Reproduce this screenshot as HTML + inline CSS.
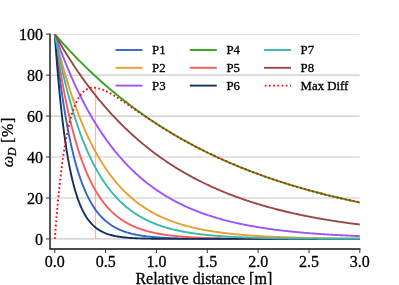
<!DOCTYPE html>
<html><head><meta charset="utf-8"><title>plot</title>
<style>
html,body{margin:0;padding:0;background:#fff;}
body{width:399px;height:285px;overflow:hidden;position:relative;}
svg{position:absolute;left:0;top:0;display:block;}
text{font-family:"Liberation Serif","Times New Roman",serif;fill:#000;stroke:#000;stroke-width:0.3px;}
.tk{font-size:16px;}
.lg{font-size:12.8px;}
.lb{font-size:16px;}
</style></head><body>
<svg width="399" height="285" viewBox="0 0 399 285">
<defs><clipPath id="ax"><rect x="50.0" y="34.2" width="309.8" height="214.8"/></clipPath></defs>
<rect width="399" height="285" fill="#fff"/>
<g clip-path="url(#ax)">
<line x1="50.0" x2="359.8" y1="238.90" y2="238.90" stroke="#cacaca" stroke-width="1.1"/>
<line x1="50.0" x2="359.8" y1="197.96" y2="197.96" stroke="#cacaca" stroke-width="1.1"/>
<line x1="50.0" x2="359.8" y1="157.02" y2="157.02" stroke="#cacaca" stroke-width="1.1"/>
<line x1="50.0" x2="359.8" y1="116.08" y2="116.08" stroke="#cacaca" stroke-width="1.1"/>
<line x1="50.0" x2="359.8" y1="75.14" y2="75.14" stroke="#cacaca" stroke-width="1.1"/>
<line x1="50.0" x2="359.8" y1="34.20" y2="34.20" stroke="#cacaca" stroke-width="1.1"/>
<line x1="95.47" x2="95.47" y1="87.42" y2="238.90" stroke="#f8a0a0" stroke-width="0.8"/>
<path d="M54.80,34.20 L55.82,43.91 L56.83,53.16 L57.85,61.97 L58.87,70.36 L59.88,78.36 L60.90,85.98 L61.92,93.23 L62.93,100.14 L63.95,106.72 L64.97,112.99 L65.98,118.97 L67.00,124.65 L68.02,130.07 L69.03,135.24 L70.05,140.15 L71.07,144.84 L72.08,149.30 L73.10,153.55 L74.12,157.60 L75.13,161.46 L76.15,165.13 L77.17,168.63 L78.18,171.96 L79.20,175.14 L80.22,178.16 L81.23,181.04 L82.25,183.79 L83.27,186.40 L84.28,188.89 L85.30,191.27 L86.32,193.53 L87.33,195.68 L88.35,197.73 L89.37,199.68 L90.38,201.54 L91.40,203.31 L92.42,205.00 L93.43,206.61 L94.45,208.14 L95.47,209.60 L96.48,210.99 L97.50,212.32 L98.52,213.58 L99.53,214.78 L100.55,215.92 L101.57,217.01 L102.58,218.05 L103.60,219.04 L104.62,219.98 L105.63,220.88 L106.65,221.73 L107.67,222.55 L108.68,223.32 L109.70,224.06 L110.72,224.77 L111.73,225.44 L112.75,226.08 L113.77,226.68 L114.78,227.26 L115.80,227.82 L116.82,228.34 L117.83,228.84 L118.85,229.32 L119.87,229.77 L120.88,230.21 L121.90,230.62 L122.92,231.01 L123.93,231.39 L124.95,231.74 L125.97,232.08 L126.98,232.41 L128.00,232.71 L129.02,233.01 L130.03,233.29 L131.05,233.55 L132.07,233.81 L133.08,234.05 L134.10,234.28 L135.12,234.50 L136.13,234.71 L137.15,234.91 L138.17,235.09 L139.18,235.28 L140.20,235.45 L141.22,235.61 L142.23,235.77 L143.25,235.92 L144.27,236.06 L145.28,236.19 L146.30,236.32 L147.32,236.44 L148.33,236.56 L149.35,236.67 L150.37,236.78 L151.38,236.88 L152.40,236.97 L153.42,237.06 L154.43,237.15 L155.45,237.23 L156.47,237.31 L157.48,237.39 L158.50,237.46 L159.52,237.53 L160.53,237.59 L161.55,237.66 L162.57,237.71 L163.58,237.77 L164.60,237.82 L165.62,237.88 L166.63,237.92 L167.65,237.97 L168.67,238.01 L169.68,238.06 L170.70,238.10 L171.72,238.13 L172.73,238.17 L173.75,238.21 L174.77,238.24 L175.78,238.27 L176.80,238.30 L177.82,238.33 L178.83,238.36 L179.85,238.38 L180.87,238.41 L181.88,238.43 L182.90,238.45 L183.92,238.47 L184.93,238.49 L185.95,238.51 L186.97,238.53 L187.98,238.55 L189.00,238.57 L190.02,238.58 L191.03,238.60 L192.05,238.61 L193.07,238.62 L194.08,238.64 L195.10,238.65 L196.12,238.66 L197.13,238.67 L198.15,238.68 L199.17,238.69 L200.18,238.70 L201.20,238.71 L202.22,238.72 L203.23,238.73 L204.25,238.74 L205.27,238.75 L206.28,238.75 L207.30,238.76 L208.32,238.77 L209.33,238.77 L210.35,238.78 L211.37,238.79 L212.38,238.79 L213.40,238.80 L214.42,238.80 L215.43,238.81 L216.45,238.81 L217.47,238.81 L218.48,238.82 L219.50,238.82 L220.52,238.83 L221.53,238.83 L222.55,238.83 L223.57,238.84 L224.58,238.84 L225.60,238.84 L226.62,238.84 L227.63,238.85 L228.65,238.85 L229.67,238.85 L230.68,238.85 L231.70,238.86 L232.72,238.86 L233.73,238.86 L234.75,238.86 L235.77,238.86 L236.78,238.87 L237.80,238.87 L238.82,238.87 L239.83,238.87 L240.85,238.87 L241.87,238.87 L242.88,238.87 L243.90,238.88 L244.92,238.88 L245.93,238.88 L246.95,238.88 L247.97,238.88 L248.98,238.88 L250.00,238.88 L251.02,238.88 L252.03,238.88 L253.05,238.88 L254.07,238.89 L255.08,238.89 L256.10,238.89 L257.12,238.89 L258.13,238.89 L259.15,238.89 L260.17,238.89 L261.18,238.89 L262.20,238.89 L263.22,238.89 L264.23,238.89 L265.25,238.89 L266.27,238.89 L267.28,238.89 L268.30,238.89 L269.32,238.89 L270.33,238.89 L271.35,238.89 L272.37,238.89 L273.38,238.89 L274.40,238.89 L275.42,238.89 L276.43,238.89 L277.45,238.90 L278.47,238.90 L279.48,238.90 L280.50,238.90 L281.52,238.90 L282.53,238.90 L283.55,238.90 L284.57,238.90 L285.58,238.90 L286.60,238.90 L287.62,238.90 L288.63,238.90 L289.65,238.90 L290.67,238.90 L291.68,238.90 L292.70,238.90 L293.72,238.90 L294.73,238.90 L295.75,238.90 L296.77,238.90 L297.78,238.90 L298.80,238.90 L299.82,238.90 L300.83,238.90 L301.85,238.90 L302.87,238.90 L303.88,238.90 L304.90,238.90 L305.92,238.90 L306.93,238.90 L307.95,238.90 L308.97,238.90 L309.98,238.90 L311.00,238.90 L312.02,238.90 L313.03,238.90 L314.05,238.90 L315.07,238.90 L316.08,238.90 L317.10,238.90 L318.12,238.90 L319.13,238.90 L320.15,238.90 L321.17,238.90 L322.18,238.90 L323.20,238.90 L324.22,238.90 L325.23,238.90 L326.25,238.90 L327.27,238.90 L328.28,238.90 L329.30,238.90 L330.32,238.90 L331.33,238.90 L332.35,238.90 L333.37,238.90 L334.38,238.90 L335.40,238.90 L336.42,238.90 L337.43,238.90 L338.45,238.90 L339.47,238.90 L340.48,238.90 L341.50,238.90 L342.52,238.90 L343.53,238.90 L344.55,238.90 L345.57,238.90 L346.58,238.90 L347.60,238.90 L348.62,238.90 L349.63,238.90 L350.65,238.90 L351.67,238.90 L352.68,238.90 L353.70,238.90 L354.72,238.90 L355.73,238.90 L356.75,238.90 L357.77,238.90 L358.78,238.90 L359.80,238.90" fill="none" stroke="#3366CC" stroke-width="1.9" stroke-linejoin="round" stroke-linecap="square"/>
<path d="M54.80,34.20 L55.82,38.51 L56.83,42.74 L57.85,46.87 L58.87,50.92 L59.88,54.88 L60.90,58.76 L61.92,62.55 L62.93,66.27 L63.95,69.91 L64.97,73.47 L65.98,76.96 L67.00,80.37 L68.02,83.71 L69.03,86.98 L70.05,90.18 L71.07,93.32 L72.08,96.39 L73.10,99.39 L74.12,102.33 L75.13,105.21 L76.15,108.02 L77.17,110.78 L78.18,113.48 L79.20,116.13 L80.22,118.71 L81.23,121.25 L82.25,123.73 L83.27,126.15 L84.28,128.53 L85.30,130.86 L86.32,133.13 L87.33,135.36 L88.35,137.54 L89.37,139.68 L90.38,141.77 L91.40,143.82 L92.42,145.82 L93.43,147.78 L94.45,149.70 L95.47,151.58 L96.48,153.42 L97.50,155.22 L98.52,156.99 L99.53,158.71 L100.55,160.40 L101.57,162.06 L102.58,163.68 L103.60,165.26 L104.62,166.82 L105.63,168.33 L106.65,169.82 L107.67,171.28 L108.68,172.70 L109.70,174.10 L110.72,175.46 L111.73,176.80 L112.75,178.11 L113.77,179.39 L114.78,180.64 L115.80,181.87 L116.82,183.07 L117.83,184.25 L118.85,185.40 L119.87,186.53 L120.88,187.63 L121.90,188.71 L122.92,189.77 L123.93,190.81 L124.95,191.82 L125.97,192.81 L126.98,193.78 L128.00,194.73 L129.02,195.67 L130.03,196.58 L131.05,197.47 L132.07,198.34 L133.08,199.20 L134.10,200.03 L135.12,200.85 L136.13,201.65 L137.15,202.44 L138.17,203.21 L139.18,203.96 L140.20,204.70 L141.22,205.42 L142.23,206.12 L143.25,206.81 L144.27,207.49 L145.28,208.15 L146.30,208.80 L147.32,209.43 L148.33,210.05 L149.35,210.66 L150.37,211.26 L151.38,211.84 L152.40,212.41 L153.42,212.97 L154.43,213.52 L155.45,214.05 L156.47,214.57 L157.48,215.09 L158.50,215.59 L159.52,216.08 L160.53,216.56 L161.55,217.03 L162.57,217.49 L163.58,217.94 L164.60,218.39 L165.62,218.82 L166.63,219.24 L167.65,219.66 L168.67,220.06 L169.68,220.46 L170.70,220.85 L171.72,221.23 L172.73,221.60 L173.75,221.96 L174.77,222.32 L175.78,222.67 L176.80,223.01 L177.82,223.35 L178.83,223.67 L179.85,224.00 L180.87,224.31 L181.88,224.62 L182.90,224.92 L183.92,225.21 L184.93,225.50 L185.95,225.78 L186.97,226.06 L187.98,226.33 L189.00,226.60 L190.02,226.86 L191.03,227.11 L192.05,227.36 L193.07,227.60 L194.08,227.84 L195.10,228.07 L196.12,228.30 L197.13,228.52 L198.15,228.74 L199.17,228.96 L200.18,229.17 L201.20,229.37 L202.22,229.57 L203.23,229.77 L204.25,229.96 L205.27,230.15 L206.28,230.33 L207.30,230.51 L208.32,230.69 L209.33,230.86 L210.35,231.03 L211.37,231.20 L212.38,231.36 L213.40,231.52 L214.42,231.68 L215.43,231.83 L216.45,231.98 L217.47,232.12 L218.48,232.27 L219.50,232.41 L220.52,232.54 L221.53,232.68 L222.55,232.81 L223.57,232.94 L224.58,233.06 L225.60,233.18 L226.62,233.31 L227.63,233.42 L228.65,233.54 L229.67,233.65 L230.68,233.76 L231.70,233.87 L232.72,233.98 L233.73,234.08 L234.75,234.18 L235.77,234.28 L236.78,234.38 L237.80,234.47 L238.82,234.57 L239.83,234.66 L240.85,234.75 L241.87,234.84 L242.88,234.92 L243.90,235.00 L244.92,235.09 L245.93,235.17 L246.95,235.25 L247.97,235.32 L248.98,235.40 L250.00,235.47 L251.02,235.54 L252.03,235.62 L253.05,235.68 L254.07,235.75 L255.08,235.82 L256.10,235.88 L257.12,235.95 L258.13,236.01 L259.15,236.07 L260.17,236.13 L261.18,236.19 L262.20,236.25 L263.22,236.30 L264.23,236.36 L265.25,236.41 L266.27,236.46 L267.28,236.51 L268.30,236.56 L269.32,236.61 L270.33,236.66 L271.35,236.71 L272.37,236.75 L273.38,236.80 L274.40,236.84 L275.42,236.89 L276.43,236.93 L277.45,236.97 L278.47,237.01 L279.48,237.05 L280.50,237.09 L281.52,237.13 L282.53,237.17 L283.55,237.20 L284.57,237.24 L285.58,237.27 L286.60,237.31 L287.62,237.34 L288.63,237.37 L289.65,237.41 L290.67,237.44 L291.68,237.47 L292.70,237.50 L293.72,237.53 L294.73,237.56 L295.75,237.59 L296.77,237.61 L297.78,237.64 L298.80,237.67 L299.82,237.69 L300.83,237.72 L301.85,237.74 L302.87,237.77 L303.88,237.79 L304.90,237.81 L305.92,237.84 L306.93,237.86 L307.95,237.88 L308.97,237.90 L309.98,237.92 L311.00,237.95 L312.02,237.97 L313.03,237.98 L314.05,238.00 L315.07,238.02 L316.08,238.04 L317.10,238.06 L318.12,238.08 L319.13,238.09 L320.15,238.11 L321.17,238.13 L322.18,238.14 L323.20,238.16 L324.22,238.18 L325.23,238.19 L326.25,238.21 L327.27,238.22 L328.28,238.24 L329.30,238.25 L330.32,238.26 L331.33,238.28 L332.35,238.29 L333.37,238.30 L334.38,238.31 L335.40,238.33 L336.42,238.34 L337.43,238.35 L338.45,238.36 L339.47,238.37 L340.48,238.39 L341.50,238.40 L342.52,238.41 L343.53,238.42 L344.55,238.43 L345.57,238.44 L346.58,238.45 L347.60,238.46 L348.62,238.47 L349.63,238.47 L350.65,238.48 L351.67,238.49 L352.68,238.50 L353.70,238.51 L354.72,238.52 L355.73,238.53 L356.75,238.53 L357.77,238.54 L358.78,238.55 L359.80,238.56" fill="none" stroke="#E8A030" stroke-width="1.9" stroke-linejoin="round" stroke-linecap="square"/>
<path d="M54.80,34.20 L55.82,37.11 L56.83,39.97 L57.85,42.80 L58.87,45.58 L59.88,48.33 L60.90,51.03 L61.92,53.70 L62.93,56.33 L63.95,58.92 L64.97,61.48 L65.98,63.99 L67.00,66.48 L68.02,68.93 L69.03,71.34 L70.05,73.72 L71.07,76.06 L72.08,78.38 L73.10,80.65 L74.12,82.90 L75.13,85.12 L76.15,87.30 L77.17,89.45 L78.18,91.57 L79.20,93.67 L80.22,95.73 L81.23,97.76 L82.25,99.76 L83.27,101.74 L84.28,103.69 L85.30,105.61 L86.32,107.50 L87.33,109.37 L88.35,111.20 L89.37,113.02 L90.38,114.81 L91.40,116.57 L92.42,118.30 L93.43,120.02 L94.45,121.70 L95.47,123.37 L96.48,125.01 L97.50,126.63 L98.52,128.22 L99.53,129.79 L100.55,131.34 L101.57,132.87 L102.58,134.37 L103.60,135.86 L104.62,137.32 L105.63,138.76 L106.65,140.18 L107.67,141.59 L108.68,142.97 L109.70,144.33 L110.72,145.67 L111.73,147.00 L112.75,148.30 L113.77,149.59 L114.78,150.86 L115.80,152.11 L116.82,153.34 L117.83,154.55 L118.85,155.75 L119.87,156.93 L120.88,158.09 L121.90,159.24 L122.92,160.37 L123.93,161.49 L124.95,162.59 L125.97,163.67 L126.98,164.74 L128.00,165.79 L129.02,166.83 L130.03,167.85 L131.05,168.86 L132.07,169.86 L133.08,170.84 L134.10,171.80 L135.12,172.76 L136.13,173.69 L137.15,174.62 L138.17,175.53 L139.18,176.43 L140.20,177.32 L141.22,178.19 L142.23,179.06 L143.25,179.91 L144.27,180.74 L145.28,181.57 L146.30,182.38 L147.32,183.19 L148.33,183.98 L149.35,184.76 L150.37,185.52 L151.38,186.28 L152.40,187.03 L153.42,187.77 L154.43,188.49 L155.45,189.21 L156.47,189.91 L157.48,190.61 L158.50,191.29 L159.52,191.97 L160.53,192.64 L161.55,193.29 L162.57,193.94 L163.58,194.58 L164.60,195.21 L165.62,195.83 L166.63,196.44 L167.65,197.04 L168.67,197.64 L169.68,198.22 L170.70,198.80 L171.72,199.37 L172.73,199.93 L173.75,200.49 L174.77,201.03 L175.78,201.57 L176.80,202.10 L177.82,202.62 L178.83,203.14 L179.85,203.64 L180.87,204.14 L181.88,204.64 L182.90,205.12 L183.92,205.60 L184.93,206.08 L185.95,206.54 L186.97,207.00 L187.98,207.45 L189.00,207.90 L190.02,208.34 L191.03,208.78 L192.05,209.20 L193.07,209.62 L194.08,210.04 L195.10,210.45 L196.12,210.85 L197.13,211.25 L198.15,211.64 L199.17,212.03 L200.18,212.41 L201.20,212.79 L202.22,213.16 L203.23,213.53 L204.25,213.89 L205.27,214.24 L206.28,214.59 L207.30,214.94 L208.32,215.28 L209.33,215.61 L210.35,215.94 L211.37,216.27 L212.38,216.59 L213.40,216.91 L214.42,217.22 L215.43,217.53 L216.45,217.83 L217.47,218.13 L218.48,218.42 L219.50,218.71 L220.52,219.00 L221.53,219.28 L222.55,219.56 L223.57,219.84 L224.58,220.11 L225.60,220.37 L226.62,220.64 L227.63,220.90 L228.65,221.15 L229.67,221.40 L230.68,221.65 L231.70,221.90 L232.72,222.14 L233.73,222.38 L234.75,222.61 L235.77,222.84 L236.78,223.07 L237.80,223.30 L238.82,223.52 L239.83,223.74 L240.85,223.95 L241.87,224.16 L242.88,224.37 L243.90,224.58 L244.92,224.78 L245.93,224.98 L246.95,225.18 L247.97,225.37 L248.98,225.57 L250.00,225.76 L251.02,225.94 L252.03,226.13 L253.05,226.31 L254.07,226.49 L255.08,226.66 L256.10,226.84 L257.12,227.01 L258.13,227.18 L259.15,227.34 L260.17,227.51 L261.18,227.67 L262.20,227.83 L263.22,227.99 L264.23,228.14 L265.25,228.29 L266.27,228.44 L267.28,228.59 L268.30,228.74 L269.32,228.88 L270.33,229.03 L271.35,229.17 L272.37,229.30 L273.38,229.44 L274.40,229.57 L275.42,229.71 L276.43,229.84 L277.45,229.97 L278.47,230.09 L279.48,230.22 L280.50,230.34 L281.52,230.46 L282.53,230.58 L283.55,230.70 L284.57,230.82 L285.58,230.93 L286.60,231.05 L287.62,231.16 L288.63,231.27 L289.65,231.37 L290.67,231.48 L291.68,231.59 L292.70,231.69 L293.72,231.79 L294.73,231.89 L295.75,231.99 L296.77,232.09 L297.78,232.19 L298.80,232.28 L299.82,232.38 L300.83,232.47 L301.85,232.56 L302.87,232.65 L303.88,232.74 L304.90,232.83 L305.92,232.91 L306.93,233.00 L307.95,233.08 L308.97,233.17 L309.98,233.25 L311.00,233.33 L312.02,233.41 L313.03,233.48 L314.05,233.56 L315.07,233.64 L316.08,233.71 L317.10,233.79 L318.12,233.86 L319.13,233.93 L320.15,234.00 L321.17,234.07 L322.18,234.14 L323.20,234.21 L324.22,234.27 L325.23,234.34 L326.25,234.40 L327.27,234.47 L328.28,234.53 L329.30,234.59 L330.32,234.65 L331.33,234.71 L332.35,234.77 L333.37,234.83 L334.38,234.89 L335.40,234.95 L336.42,235.00 L337.43,235.06 L338.45,235.11 L339.47,235.17 L340.48,235.22 L341.50,235.27 L342.52,235.32 L343.53,235.37 L344.55,235.42 L345.57,235.47 L346.58,235.52 L347.60,235.57 L348.62,235.62 L349.63,235.66 L350.65,235.71 L351.67,235.75 L352.68,235.80 L353.70,235.84 L354.72,235.89 L355.73,235.93 L356.75,235.97 L357.77,236.01 L358.78,236.05 L359.80,236.09" fill="none" stroke="#9955FF" stroke-width="1.9" stroke-linejoin="round" stroke-linecap="square"/>
<path d="M54.80,34.20 L55.82,35.37 L56.83,36.54 L57.85,37.70 L58.87,38.85 L59.88,40.00 L60.90,41.14 L61.92,42.28 L62.93,43.40 L63.95,44.52 L64.97,45.64 L65.98,46.75 L67.00,47.85 L68.02,48.94 L69.03,50.03 L70.05,51.12 L71.07,52.19 L72.08,53.26 L73.10,54.33 L74.12,55.39 L75.13,56.44 L76.15,57.48 L77.17,58.52 L78.18,59.56 L79.20,60.59 L80.22,61.61 L81.23,62.62 L82.25,63.64 L83.27,64.64 L84.28,65.64 L85.30,66.63 L86.32,67.62 L87.33,68.60 L88.35,69.58 L89.37,70.55 L90.38,71.52 L91.40,72.47 L92.42,73.43 L93.43,74.38 L94.45,75.32 L95.47,76.26 L96.48,77.19 L97.50,78.12 L98.52,79.04 L99.53,79.96 L100.55,80.87 L101.57,81.77 L102.58,82.68 L103.60,83.57 L104.62,84.46 L105.63,85.35 L106.65,86.23 L107.67,87.10 L108.68,87.97 L109.70,88.84 L110.72,89.70 L111.73,90.55 L112.75,91.40 L113.77,92.25 L114.78,93.09 L115.80,93.93 L116.82,94.76 L117.83,95.58 L118.85,96.41 L119.87,97.22 L120.88,98.04 L121.90,98.84 L122.92,99.65 L123.93,100.44 L124.95,101.24 L125.97,102.03 L126.98,102.81 L128.00,103.59 L129.02,104.37 L130.03,105.14 L131.05,105.91 L132.07,106.67 L133.08,107.43 L134.10,108.18 L135.12,108.93 L136.13,109.68 L137.15,110.42 L138.17,111.15 L139.18,111.89 L140.20,112.61 L141.22,113.34 L142.23,114.06 L143.25,114.77 L144.27,115.49 L145.28,116.19 L146.30,116.90 L147.32,117.60 L148.33,118.29 L149.35,118.98 L150.37,119.67 L151.38,120.35 L152.40,121.03 L153.42,121.71 L154.43,122.38 L155.45,123.05 L156.47,123.71 L157.48,124.37 L158.50,125.03 L159.52,125.68 L160.53,126.33 L161.55,126.98 L162.57,127.62 L163.58,128.26 L164.60,128.89 L165.62,129.52 L166.63,130.15 L167.65,130.77 L168.67,131.39 L169.68,132.01 L170.70,132.62 L171.72,133.23 L172.73,133.84 L173.75,134.44 L174.77,135.04 L175.78,135.64 L176.80,136.23 L177.82,136.82 L178.83,137.40 L179.85,137.98 L180.87,138.56 L181.88,139.14 L182.90,139.71 L183.92,140.28 L184.93,140.84 L185.95,141.41 L186.97,141.96 L187.98,142.52 L189.00,143.07 L190.02,143.62 L191.03,144.17 L192.05,144.71 L193.07,145.25 L194.08,145.79 L195.10,146.32 L196.12,146.85 L197.13,147.38 L198.15,147.91 L199.17,148.43 L200.18,148.95 L201.20,149.46 L202.22,149.97 L203.23,150.48 L204.25,150.99 L205.27,151.50 L206.28,152.00 L207.30,152.50 L208.32,152.99 L209.33,153.48 L210.35,153.97 L211.37,154.46 L212.38,154.94 L213.40,155.43 L214.42,155.90 L215.43,156.38 L216.45,156.85 L217.47,157.32 L218.48,157.79 L219.50,158.26 L220.52,158.72 L221.53,159.18 L222.55,159.64 L223.57,160.09 L224.58,160.54 L225.60,160.99 L226.62,161.44 L227.63,161.88 L228.65,162.32 L229.67,162.76 L230.68,163.20 L231.70,163.63 L232.72,164.06 L233.73,164.49 L234.75,164.92 L235.77,165.34 L236.78,165.77 L237.80,166.19 L238.82,166.60 L239.83,167.02 L240.85,167.43 L241.87,167.84 L242.88,168.25 L243.90,168.65 L244.92,169.05 L245.93,169.45 L246.95,169.85 L247.97,170.25 L248.98,170.64 L250.00,171.03 L251.02,171.42 L252.03,171.81 L253.05,172.19 L254.07,172.58 L255.08,172.96 L256.10,173.33 L257.12,173.71 L258.13,174.08 L259.15,174.46 L260.17,174.83 L261.18,175.19 L262.20,175.56 L263.22,175.92 L264.23,176.28 L265.25,176.64 L266.27,177.00 L267.28,177.35 L268.30,177.71 L269.32,178.06 L270.33,178.41 L271.35,178.75 L272.37,179.10 L273.38,179.44 L274.40,179.78 L275.42,180.12 L276.43,180.46 L277.45,180.79 L278.47,181.13 L279.48,181.46 L280.50,181.79 L281.52,182.11 L282.53,182.44 L283.55,182.76 L284.57,183.08 L285.58,183.40 L286.60,183.72 L287.62,184.04 L288.63,184.35 L289.65,184.67 L290.67,184.98 L291.68,185.29 L292.70,185.59 L293.72,185.90 L294.73,186.20 L295.75,186.51 L296.77,186.81 L297.78,187.10 L298.80,187.40 L299.82,187.70 L300.83,187.99 L301.85,188.28 L302.87,188.57 L303.88,188.86 L304.90,189.15 L305.92,189.43 L306.93,189.72 L307.95,190.00 L308.97,190.28 L309.98,190.56 L311.00,190.84 L312.02,191.11 L313.03,191.38 L314.05,191.66 L315.07,191.93 L316.08,192.20 L317.10,192.47 L318.12,192.73 L319.13,193.00 L320.15,193.26 L321.17,193.52 L322.18,193.78 L323.20,194.04 L324.22,194.30 L325.23,194.55 L326.25,194.81 L327.27,195.06 L328.28,195.31 L329.30,195.56 L330.32,195.81 L331.33,196.06 L332.35,196.30 L333.37,196.55 L334.38,196.79 L335.40,197.03 L336.42,197.27 L337.43,197.51 L338.45,197.75 L339.47,197.98 L340.48,198.22 L341.50,198.45 L342.52,198.68 L343.53,198.91 L344.55,199.14 L345.57,199.37 L346.58,199.60 L347.60,199.82 L348.62,200.05 L349.63,200.27 L350.65,200.49 L351.67,200.71 L352.68,200.93 L353.70,201.15 L354.72,201.36 L355.73,201.58 L356.75,201.79 L357.77,202.01 L358.78,202.22 L359.80,202.43" fill="none" stroke="#33A61A" stroke-width="1.9" stroke-linejoin="round" stroke-linecap="square"/>
<path d="M54.80,34.20 L55.82,41.44 L56.83,48.42 L57.85,55.16 L58.87,61.65 L59.88,67.92 L60.90,73.97 L61.92,79.80 L62.93,85.42 L63.95,90.85 L64.97,96.09 L65.98,101.14 L67.00,106.01 L68.02,110.71 L69.03,115.24 L70.05,119.61 L71.07,123.83 L72.08,127.90 L73.10,131.82 L74.12,135.61 L75.13,139.26 L76.15,142.78 L77.17,146.18 L78.18,149.46 L79.20,152.62 L80.22,155.68 L81.23,158.62 L82.25,161.46 L83.27,164.20 L84.28,166.84 L85.30,169.38 L86.32,171.84 L87.33,174.21 L88.35,176.50 L89.37,178.71 L90.38,180.84 L91.40,182.89 L92.42,184.87 L93.43,186.78 L94.45,188.62 L95.47,190.40 L96.48,192.12 L97.50,193.77 L98.52,195.37 L99.53,196.91 L100.55,198.39 L101.57,199.82 L102.58,201.20 L103.60,202.54 L104.62,203.82 L105.63,205.06 L106.65,206.26 L107.67,207.41 L108.68,208.53 L109.70,209.60 L110.72,210.64 L111.73,211.64 L112.75,212.60 L113.77,213.53 L114.78,214.43 L115.80,215.29 L116.82,216.13 L117.83,216.93 L118.85,217.71 L119.87,218.46 L120.88,219.18 L121.90,219.88 L122.92,220.55 L123.93,221.20 L124.95,221.83 L125.97,222.43 L126.98,223.01 L128.00,223.57 L129.02,224.12 L130.03,224.64 L131.05,225.14 L132.07,225.63 L133.08,226.10 L134.10,226.55 L135.12,226.99 L136.13,227.41 L137.15,227.82 L138.17,228.21 L139.18,228.59 L140.20,228.95 L141.22,229.30 L142.23,229.64 L143.25,229.97 L144.27,230.28 L145.28,230.59 L146.30,230.88 L147.32,231.17 L148.33,231.44 L149.35,231.70 L150.37,231.96 L151.38,232.20 L152.40,232.44 L153.42,232.67 L154.43,232.89 L155.45,233.10 L156.47,233.31 L157.48,233.50 L158.50,233.70 L159.52,233.88 L160.53,234.06 L161.55,234.23 L162.57,234.39 L163.58,234.55 L164.60,234.71 L165.62,234.85 L166.63,235.00 L167.65,235.14 L168.67,235.27 L169.68,235.40 L170.70,235.52 L171.72,235.64 L172.73,235.76 L173.75,235.87 L174.77,235.97 L175.78,236.08 L176.80,236.18 L177.82,236.27 L178.83,236.37 L179.85,236.46 L180.87,236.54 L181.88,236.63 L182.90,236.71 L183.92,236.78 L184.93,236.86 L185.95,236.93 L186.97,237.00 L187.98,237.07 L189.00,237.13 L190.02,237.20 L191.03,237.26 L192.05,237.31 L193.07,237.37 L194.08,237.42 L195.10,237.48 L196.12,237.53 L197.13,237.57 L198.15,237.62 L199.17,237.67 L200.18,237.71 L201.20,237.75 L202.22,237.79 L203.23,237.83 L204.25,237.87 L205.27,237.91 L206.28,237.94 L207.30,237.98 L208.32,238.01 L209.33,238.04 L210.35,238.07 L211.37,238.10 L212.38,238.13 L213.40,238.16 L214.42,238.18 L215.43,238.21 L216.45,238.23 L217.47,238.25 L218.48,238.28 L219.50,238.30 L220.52,238.32 L221.53,238.34 L222.55,238.36 L223.57,238.38 L224.58,238.40 L225.60,238.42 L226.62,238.43 L227.63,238.45 L228.65,238.47 L229.67,238.48 L230.68,238.50 L231.70,238.51 L232.72,238.52 L233.73,238.54 L234.75,238.55 L235.77,238.56 L236.78,238.57 L237.80,238.59 L238.82,238.60 L239.83,238.61 L240.85,238.62 L241.87,238.63 L242.88,238.64 L243.90,238.65 L244.92,238.66 L245.93,238.66 L246.95,238.67 L247.97,238.68 L248.98,238.69 L250.00,238.70 L251.02,238.70 L252.03,238.71 L253.05,238.72 L254.07,238.72 L255.08,238.73 L256.10,238.74 L257.12,238.74 L258.13,238.75 L259.15,238.75 L260.17,238.76 L261.18,238.76 L262.20,238.77 L263.22,238.77 L264.23,238.78 L265.25,238.78 L266.27,238.79 L267.28,238.79 L268.30,238.79 L269.32,238.80 L270.33,238.80 L271.35,238.80 L272.37,238.81 L273.38,238.81 L274.40,238.81 L275.42,238.82 L276.43,238.82 L277.45,238.82 L278.47,238.83 L279.48,238.83 L280.50,238.83 L281.52,238.83 L282.53,238.84 L283.55,238.84 L284.57,238.84 L285.58,238.84 L286.60,238.84 L287.62,238.85 L288.63,238.85 L289.65,238.85 L290.67,238.85 L291.68,238.85 L292.70,238.86 L293.72,238.86 L294.73,238.86 L295.75,238.86 L296.77,238.86 L297.78,238.86 L298.80,238.86 L299.82,238.87 L300.83,238.87 L301.85,238.87 L302.87,238.87 L303.88,238.87 L304.90,238.87 L305.92,238.87 L306.93,238.87 L307.95,238.87 L308.97,238.87 L309.98,238.88 L311.00,238.88 L312.02,238.88 L313.03,238.88 L314.05,238.88 L315.07,238.88 L316.08,238.88 L317.10,238.88 L318.12,238.88 L319.13,238.88 L320.15,238.88 L321.17,238.88 L322.18,238.88 L323.20,238.88 L324.22,238.89 L325.23,238.89 L326.25,238.89 L327.27,238.89 L328.28,238.89 L329.30,238.89 L330.32,238.89 L331.33,238.89 L332.35,238.89 L333.37,238.89 L334.38,238.89 L335.40,238.89 L336.42,238.89 L337.43,238.89 L338.45,238.89 L339.47,238.89 L340.48,238.89 L341.50,238.89 L342.52,238.89 L343.53,238.89 L344.55,238.89 L345.57,238.89 L346.58,238.89 L347.60,238.89 L348.62,238.89 L349.63,238.89 L350.65,238.89 L351.67,238.89 L352.68,238.89 L353.70,238.89 L354.72,238.90 L355.73,238.90 L356.75,238.90 L357.77,238.90 L358.78,238.90 L359.80,238.90" fill="none" stroke="#F75C5C" stroke-width="1.9" stroke-linejoin="round" stroke-linecap="square"/>
<path d="M54.80,34.20 L55.82,48.42 L56.83,61.65 L57.85,73.97 L58.87,85.42 L59.88,96.09 L60.90,106.01 L61.92,115.24 L62.93,123.83 L63.95,131.82 L64.97,139.26 L65.98,146.18 L67.00,152.62 L68.02,158.62 L69.03,164.20 L70.05,169.38 L71.07,174.21 L72.08,178.71 L73.10,182.89 L74.12,186.78 L75.13,190.40 L76.15,193.77 L77.17,196.91 L78.18,199.82 L79.20,202.54 L80.22,205.06 L81.23,207.41 L82.25,209.60 L83.27,211.64 L84.28,213.53 L85.30,215.29 L86.32,216.93 L87.33,218.46 L88.35,219.88 L89.37,221.20 L90.38,222.43 L91.40,223.57 L92.42,224.64 L93.43,225.63 L94.45,226.55 L95.47,227.41 L96.48,228.21 L97.50,228.95 L98.52,229.64 L99.53,230.28 L100.55,230.88 L101.57,231.44 L102.58,231.96 L103.60,232.44 L104.62,232.89 L105.63,233.31 L106.65,233.70 L107.67,234.06 L108.68,234.39 L109.70,234.71 L110.72,235.00 L111.73,235.27 L112.75,235.52 L113.77,235.76 L114.78,235.97 L115.80,236.18 L116.82,236.37 L117.83,236.54 L118.85,236.71 L119.87,236.86 L120.88,237.00 L121.90,237.13 L122.92,237.26 L123.93,237.37 L124.95,237.48 L125.97,237.57 L126.98,237.67 L128.00,237.75 L129.02,237.83 L130.03,237.91 L131.05,237.98 L132.07,238.04 L133.08,238.10 L134.10,238.16 L135.12,238.21 L136.13,238.25 L137.15,238.30 L138.17,238.34 L139.18,238.38 L140.20,238.42 L141.22,238.45 L142.23,238.48 L143.25,238.51 L144.27,238.54 L145.28,238.56 L146.30,238.59 L147.32,238.61 L148.33,238.63 L149.35,238.65 L150.37,238.66 L151.38,238.68 L152.40,238.70 L153.42,238.71 L154.43,238.72 L155.45,238.74 L156.47,238.75 L157.48,238.76 L158.50,238.77 L159.52,238.78 L160.53,238.79 L161.55,238.79 L162.57,238.80 L163.58,238.81 L164.60,238.81 L165.62,238.82 L166.63,238.83 L167.65,238.83 L168.67,238.84 L169.68,238.84 L170.70,238.84 L171.72,238.85 L172.73,238.85 L173.75,238.86 L174.77,238.86 L175.78,238.86 L176.80,238.86 L177.82,238.87 L178.83,238.87 L179.85,238.87 L180.87,238.87 L181.88,238.87 L182.90,238.88 L183.92,238.88 L184.93,238.88 L185.95,238.88 L186.97,238.88 L187.98,238.88 L189.00,238.88 L190.02,238.89 L191.03,238.89 L192.05,238.89 L193.07,238.89 L194.08,238.89 L195.10,238.89 L196.12,238.89 L197.13,238.89 L198.15,238.89 L199.17,238.89 L200.18,238.89 L201.20,238.89 L202.22,238.89 L203.23,238.89 L204.25,238.89 L205.27,238.90 L206.28,238.90 L207.30,238.90 L208.32,238.90 L209.33,238.90 L210.35,238.90 L211.37,238.90 L212.38,238.90 L213.40,238.90 L214.42,238.90 L215.43,238.90 L216.45,238.90 L217.47,238.90 L218.48,238.90 L219.50,238.90 L220.52,238.90 L221.53,238.90 L222.55,238.90 L223.57,238.90 L224.58,238.90 L225.60,238.90 L226.62,238.90 L227.63,238.90 L228.65,238.90 L229.67,238.90 L230.68,238.90 L231.70,238.90 L232.72,238.90 L233.73,238.90 L234.75,238.90 L235.77,238.90 L236.78,238.90 L237.80,238.90 L238.82,238.90 L239.83,238.90 L240.85,238.90 L241.87,238.90 L242.88,238.90 L243.90,238.90 L244.92,238.90 L245.93,238.90 L246.95,238.90 L247.97,238.90 L248.98,238.90 L250.00,238.90 L251.02,238.90 L252.03,238.90 L253.05,238.90 L254.07,238.90 L255.08,238.90 L256.10,238.90 L257.12,238.90 L258.13,238.90 L259.15,238.90 L260.17,238.90 L261.18,238.90 L262.20,238.90 L263.22,238.90 L264.23,238.90 L265.25,238.90 L266.27,238.90 L267.28,238.90 L268.30,238.90 L269.32,238.90 L270.33,238.90 L271.35,238.90 L272.37,238.90 L273.38,238.90 L274.40,238.90 L275.42,238.90 L276.43,238.90 L277.45,238.90 L278.47,238.90 L279.48,238.90 L280.50,238.90 L281.52,238.90 L282.53,238.90 L283.55,238.90 L284.57,238.90 L285.58,238.90 L286.60,238.90 L287.62,238.90 L288.63,238.90 L289.65,238.90 L290.67,238.90 L291.68,238.90 L292.70,238.90 L293.72,238.90 L294.73,238.90 L295.75,238.90 L296.77,238.90 L297.78,238.90 L298.80,238.90 L299.82,238.90 L300.83,238.90 L301.85,238.90 L302.87,238.90 L303.88,238.90 L304.90,238.90 L305.92,238.90 L306.93,238.90 L307.95,238.90 L308.97,238.90 L309.98,238.90 L311.00,238.90 L312.02,238.90 L313.03,238.90 L314.05,238.90 L315.07,238.90 L316.08,238.90 L317.10,238.90 L318.12,238.90 L319.13,238.90 L320.15,238.90 L321.17,238.90 L322.18,238.90 L323.20,238.90 L324.22,238.90 L325.23,238.90 L326.25,238.90 L327.27,238.90 L328.28,238.90 L329.30,238.90 L330.32,238.90 L331.33,238.90 L332.35,238.90 L333.37,238.90 L334.38,238.90 L335.40,238.90 L336.42,238.90 L337.43,238.90 L338.45,238.90 L339.47,238.90 L340.48,238.90 L341.50,238.90 L342.52,238.90 L343.53,238.90 L344.55,238.90 L345.57,238.90 L346.58,238.90 L347.60,238.90 L348.62,238.90 L349.63,238.90 L350.65,238.90 L351.67,238.90 L352.68,238.90 L353.70,238.90 L354.72,238.90 L355.73,238.90 L356.75,238.90 L357.77,238.90 L358.78,238.90 L359.80,238.90" fill="none" stroke="#14305C" stroke-width="1.9" stroke-linejoin="round" stroke-linecap="square"/>
<path d="M54.80,34.20 L55.82,39.53 L56.83,44.73 L57.85,49.79 L58.87,54.71 L59.88,59.51 L60.90,64.19 L61.92,68.74 L62.93,73.17 L63.95,77.49 L64.97,81.70 L65.98,85.79 L67.00,89.78 L68.02,93.67 L69.03,97.45 L70.05,101.14 L71.07,104.72 L72.08,108.22 L73.10,111.63 L74.12,114.94 L75.13,118.17 L76.15,121.32 L77.17,124.38 L78.18,127.36 L79.20,130.27 L80.22,133.10 L81.23,135.86 L82.25,138.54 L83.27,141.16 L84.28,143.70 L85.30,146.18 L86.32,148.60 L87.33,150.95 L88.35,153.24 L89.37,155.48 L90.38,157.65 L91.40,159.77 L92.42,161.83 L93.43,163.84 L94.45,165.79 L95.47,167.70 L96.48,169.55 L97.50,171.36 L98.52,173.12 L99.53,174.83 L100.55,176.50 L101.57,178.13 L102.58,179.71 L103.60,181.25 L104.62,182.75 L105.63,184.22 L106.65,185.64 L107.67,187.03 L108.68,188.38 L109.70,189.70 L110.72,190.98 L111.73,192.23 L112.75,193.44 L113.77,194.63 L114.78,195.78 L115.80,196.91 L116.82,198.00 L117.83,199.07 L118.85,200.10 L119.87,201.11 L120.88,202.10 L121.90,203.06 L122.92,203.99 L123.93,204.90 L124.95,205.79 L125.97,206.65 L126.98,207.49 L128.00,208.31 L129.02,209.10 L130.03,209.88 L131.05,210.64 L132.07,211.37 L133.08,212.09 L134.10,212.79 L135.12,213.47 L136.13,214.13 L137.15,214.78 L138.17,215.41 L139.18,216.02 L140.20,216.61 L141.22,217.19 L142.23,217.76 L143.25,218.31 L144.27,218.85 L145.28,219.37 L146.30,219.88 L147.32,220.37 L148.33,220.86 L149.35,221.33 L150.37,221.79 L151.38,222.23 L152.40,222.67 L153.42,223.09 L154.43,223.50 L155.45,223.90 L156.47,224.29 L157.48,224.67 L158.50,225.04 L159.52,225.40 L160.53,225.76 L161.55,226.10 L162.57,226.43 L163.58,226.76 L164.60,227.07 L165.62,227.38 L166.63,227.68 L167.65,227.97 L168.67,228.26 L169.68,228.54 L170.70,228.81 L171.72,229.07 L172.73,229.33 L173.75,229.57 L174.77,229.82 L175.78,230.05 L176.80,230.28 L177.82,230.51 L178.83,230.73 L179.85,230.94 L180.87,231.15 L181.88,231.35 L182.90,231.55 L183.92,231.74 L184.93,231.92 L185.95,232.11 L186.97,232.28 L187.98,232.46 L189.00,232.62 L190.02,232.79 L191.03,232.95 L192.05,233.10 L193.07,233.25 L194.08,233.40 L195.10,233.54 L196.12,233.68 L197.13,233.82 L198.15,233.95 L199.17,234.08 L200.18,234.21 L201.20,234.33 L202.22,234.45 L203.23,234.56 L204.25,234.68 L205.27,234.79 L206.28,234.89 L207.30,235.00 L208.32,235.10 L209.33,235.20 L210.35,235.29 L211.37,235.39 L212.38,235.48 L213.40,235.57 L214.42,235.66 L215.43,235.74 L216.45,235.82 L217.47,235.90 L218.48,235.98 L219.50,236.06 L220.52,236.13 L221.53,236.20 L222.55,236.27 L223.57,236.34 L224.58,236.41 L225.60,236.47 L226.62,236.54 L227.63,236.60 L228.65,236.66 L229.67,236.72 L230.68,236.77 L231.70,236.83 L232.72,236.88 L233.73,236.94 L234.75,236.99 L235.77,237.04 L236.78,237.09 L237.80,237.13 L238.82,237.18 L239.83,237.22 L240.85,237.27 L241.87,237.31 L242.88,237.35 L243.90,237.39 L244.92,237.43 L245.93,237.47 L246.95,237.51 L247.97,237.54 L248.98,237.58 L250.00,237.61 L251.02,237.65 L252.03,237.68 L253.05,237.71 L254.07,237.74 L255.08,237.77 L256.10,237.80 L257.12,237.83 L258.13,237.86 L259.15,237.88 L260.17,237.91 L261.18,237.94 L262.20,237.96 L263.22,237.99 L264.23,238.01 L265.25,238.03 L266.27,238.06 L267.28,238.08 L268.30,238.10 L269.32,238.12 L270.33,238.14 L271.35,238.16 L272.37,238.18 L273.38,238.20 L274.40,238.22 L275.42,238.23 L276.43,238.25 L277.45,238.27 L278.47,238.29 L279.48,238.30 L280.50,238.32 L281.52,238.33 L282.53,238.35 L283.55,238.36 L284.57,238.38 L285.58,238.39 L286.60,238.40 L287.62,238.42 L288.63,238.43 L289.65,238.44 L290.67,238.45 L291.68,238.46 L292.70,238.48 L293.72,238.49 L294.73,238.50 L295.75,238.51 L296.77,238.52 L297.78,238.53 L298.80,238.54 L299.82,238.55 L300.83,238.56 L301.85,238.57 L302.87,238.57 L303.88,238.58 L304.90,238.59 L305.92,238.60 L306.93,238.61 L307.95,238.61 L308.97,238.62 L309.98,238.63 L311.00,238.64 L312.02,238.64 L313.03,238.65 L314.05,238.66 L315.07,238.66 L316.08,238.67 L317.10,238.67 L318.12,238.68 L319.13,238.69 L320.15,238.69 L321.17,238.70 L322.18,238.70 L323.20,238.71 L324.22,238.71 L325.23,238.72 L326.25,238.72 L327.27,238.73 L328.28,238.73 L329.30,238.74 L330.32,238.74 L331.33,238.74 L332.35,238.75 L333.37,238.75 L334.38,238.76 L335.40,238.76 L336.42,238.76 L337.43,238.77 L338.45,238.77 L339.47,238.77 L340.48,238.78 L341.50,238.78 L342.52,238.78 L343.53,238.79 L344.55,238.79 L345.57,238.79 L346.58,238.80 L347.60,238.80 L348.62,238.80 L349.63,238.80 L350.65,238.81 L351.67,238.81 L352.68,238.81 L353.70,238.81 L354.72,238.82 L355.73,238.82 L356.75,238.82 L357.77,238.82 L358.78,238.82 L359.80,238.83" fill="none" stroke="#3DB8AC" stroke-width="1.9" stroke-linejoin="round" stroke-linecap="square"/>
<path d="M54.80,34.20 L55.82,36.01 L56.83,37.80 L57.85,39.57 L58.87,41.33 L59.88,43.07 L60.90,44.80 L61.92,46.51 L62.93,48.21 L63.95,49.89 L64.97,51.56 L65.98,53.21 L67.00,54.85 L68.02,56.47 L69.03,58.08 L70.05,59.67 L71.07,61.26 L72.08,62.82 L73.10,64.38 L74.12,65.91 L75.13,67.44 L76.15,68.95 L77.17,70.45 L78.18,71.94 L79.20,73.41 L80.22,74.87 L81.23,76.32 L82.25,77.75 L83.27,79.17 L84.28,80.58 L85.30,81.98 L86.32,83.36 L87.33,84.73 L88.35,86.09 L89.37,87.44 L90.38,88.78 L91.40,90.10 L92.42,91.42 L93.43,92.72 L94.45,94.01 L95.47,95.28 L96.48,96.55 L97.50,97.81 L98.52,99.05 L99.53,100.28 L100.55,101.51 L101.57,102.72 L102.58,103.92 L103.60,105.11 L104.62,106.29 L105.63,107.46 L106.65,108.62 L107.67,109.77 L108.68,110.91 L109.70,112.04 L110.72,113.16 L111.73,114.27 L112.75,115.36 L113.77,116.45 L114.78,117.53 L115.80,118.61 L116.82,119.67 L117.83,120.72 L118.85,121.76 L119.87,122.79 L120.88,123.82 L121.90,124.83 L122.92,125.84 L123.93,126.84 L124.95,127.83 L125.97,128.80 L126.98,129.78 L128.00,130.74 L129.02,131.69 L130.03,132.64 L131.05,133.58 L132.07,134.50 L133.08,135.43 L134.10,136.34 L135.12,137.24 L136.13,138.14 L137.15,139.03 L138.17,139.91 L139.18,140.78 L140.20,141.65 L141.22,142.51 L142.23,143.36 L143.25,144.20 L144.27,145.03 L145.28,145.86 L146.30,146.68 L147.32,147.50 L148.33,148.30 L149.35,149.10 L150.37,149.89 L151.38,150.68 L152.40,151.46 L153.42,152.23 L154.43,152.99 L155.45,153.75 L156.47,154.50 L157.48,155.25 L158.50,155.98 L159.52,156.72 L160.53,157.44 L161.55,158.16 L162.57,158.87 L163.58,159.58 L164.60,160.28 L165.62,160.97 L166.63,161.66 L167.65,162.34 L168.67,163.01 L169.68,163.68 L170.70,164.35 L171.72,165.00 L172.73,165.66 L173.75,166.30 L174.77,166.94 L175.78,167.58 L176.80,168.21 L177.82,168.83 L178.83,169.45 L179.85,170.06 L180.87,170.67 L181.88,171.27 L182.90,171.87 L183.92,172.46 L184.93,173.04 L185.95,173.63 L186.97,174.20 L187.98,174.77 L189.00,175.34 L190.02,175.90 L191.03,176.45 L192.05,177.00 L193.07,177.55 L194.08,178.09 L195.10,178.63 L196.12,179.16 L197.13,179.69 L198.15,180.21 L199.17,180.73 L200.18,181.24 L201.20,181.75 L202.22,182.25 L203.23,182.75 L204.25,183.25 L205.27,183.74 L206.28,184.23 L207.30,184.71 L208.32,185.19 L209.33,185.66 L210.35,186.13 L211.37,186.59 L212.38,187.06 L213.40,187.51 L214.42,187.97 L215.43,188.42 L216.45,188.86 L217.47,189.30 L218.48,189.74 L219.50,190.17 L220.52,190.60 L221.53,191.03 L222.55,191.45 L223.57,191.87 L224.58,192.28 L225.60,192.70 L226.62,193.10 L227.63,193.51 L228.65,193.91 L229.67,194.30 L230.68,194.70 L231.70,195.09 L232.72,195.47 L233.73,195.86 L234.75,196.24 L235.77,196.61 L236.78,196.99 L237.80,197.36 L238.82,197.72 L239.83,198.09 L240.85,198.45 L241.87,198.80 L242.88,199.16 L243.90,199.51 L244.92,199.85 L245.93,200.20 L246.95,200.54 L247.97,200.88 L248.98,201.21 L250.00,201.55 L251.02,201.88 L252.03,202.20 L253.05,202.53 L254.07,202.85 L255.08,203.17 L256.10,203.48 L257.12,203.79 L258.13,204.10 L259.15,204.41 L260.17,204.71 L261.18,205.02 L262.20,205.31 L263.22,205.61 L264.23,205.90 L265.25,206.20 L266.27,206.48 L267.28,206.77 L268.30,207.05 L269.32,207.33 L270.33,207.61 L271.35,207.89 L272.37,208.16 L273.38,208.43 L274.40,208.70 L275.42,208.97 L276.43,209.23 L277.45,209.49 L278.47,209.75 L279.48,210.01 L280.50,210.27 L281.52,210.52 L282.53,210.77 L283.55,211.02 L284.57,211.26 L285.58,211.51 L286.60,211.75 L287.62,211.99 L288.63,212.22 L289.65,212.46 L290.67,212.69 L291.68,212.92 L292.70,213.15 L293.72,213.38 L294.73,213.61 L295.75,213.83 L296.77,214.05 L297.78,214.27 L298.80,214.49 L299.82,214.70 L300.83,214.92 L301.85,215.13 L302.87,215.34 L303.88,215.54 L304.90,215.75 L305.92,215.95 L306.93,216.16 L307.95,216.36 L308.97,216.56 L309.98,216.75 L311.00,216.95 L312.02,217.14 L313.03,217.33 L314.05,217.52 L315.07,217.71 L316.08,217.90 L317.10,218.09 L318.12,218.27 L319.13,218.45 L320.15,218.63 L321.17,218.81 L322.18,218.99 L323.20,219.16 L324.22,219.34 L325.23,219.51 L326.25,219.68 L327.27,219.85 L328.28,220.02 L329.30,220.18 L330.32,220.35 L331.33,220.51 L332.35,220.68 L333.37,220.84 L334.38,221.00 L335.40,221.15 L336.42,221.31 L337.43,221.47 L338.45,221.62 L339.47,221.77 L340.48,221.92 L341.50,222.07 L342.52,222.22 L343.53,222.37 L344.55,222.51 L345.57,222.66 L346.58,222.80 L347.60,222.94 L348.62,223.08 L349.63,223.22 L350.65,223.36 L351.67,223.50 L352.68,223.63 L353.70,223.77 L354.72,223.90 L355.73,224.04 L356.75,224.17 L357.77,224.30 L358.78,224.43 L359.80,224.55" fill="none" stroke="#9C4747" stroke-width="1.9" stroke-linejoin="round" stroke-linecap="square"/>
<path d="M54.80,238.90 L55.82,225.85 L56.83,213.79 L57.85,202.63 L58.87,192.33 L59.88,182.82 L60.90,174.03 L61.92,165.94 L62.93,158.47 L63.95,151.60 L64.97,145.28 L65.98,139.46 L67.00,134.12 L68.02,129.23 L69.03,124.74 L70.05,120.63 L71.07,116.88 L72.08,113.45 L73.10,110.34 L74.12,107.50 L75.13,104.94 L76.15,102.61 L77.17,100.52 L78.18,98.64 L79.20,96.95 L80.22,95.45 L81.23,94.11 L82.25,92.93 L83.27,91.90 L84.28,91.01 L85.30,90.24 L86.32,89.59 L87.33,89.04 L88.35,88.60 L89.37,88.25 L90.38,87.99 L91.40,87.80 L92.42,87.69 L93.43,87.65 L94.45,87.67 L95.47,87.75 L96.48,87.88 L97.50,88.07 L98.52,88.30 L99.53,88.57 L100.55,88.89 L101.57,89.23 L102.58,89.62 L103.60,90.03 L104.62,90.47 L105.63,90.94 L106.65,91.43 L107.67,91.95 L108.68,92.48 L109.70,93.03 L110.72,93.60 L111.73,94.19 L112.75,94.78 L113.77,95.39 L114.78,96.02 L115.80,96.65 L116.82,97.29 L117.83,97.94 L118.85,98.60 L119.87,99.26 L120.88,99.94 L121.90,100.61 L122.92,101.29 L123.93,101.98 L124.95,102.66 L125.97,103.35 L126.98,104.05 L128.00,104.74 L129.02,105.44 L130.03,106.13 L131.05,106.83 L132.07,107.53 L133.08,108.23 L134.10,108.93 L135.12,109.62 L136.13,110.32 L137.15,111.02 L138.17,111.71 L139.18,112.41 L140.20,113.10 L141.22,113.79 L142.23,114.48 L143.25,115.16 L144.27,115.85 L145.28,116.53 L146.30,117.21 L147.32,117.89 L148.33,118.56 L149.35,119.24 L150.37,119.91 L151.38,120.57 L152.40,121.24 L153.42,121.90 L154.43,122.56 L155.45,123.21 L156.47,123.87 L157.48,124.52 L158.50,125.16 L159.52,125.81 L160.53,126.45 L161.55,127.09 L162.57,127.72 L163.58,128.35 L164.60,128.98 L165.62,129.60 L166.63,130.23 L167.65,130.84 L168.67,131.46 L169.68,132.07 L170.70,132.68 L171.72,133.28 L172.73,133.89 L173.75,134.49 L174.77,135.08 L175.78,135.67 L176.80,136.26 L177.82,136.85 L178.83,137.43 L179.85,138.01 L180.87,138.59 L181.88,139.16 L182.90,139.73 L183.92,140.30 L184.93,140.86 L185.95,141.42 L186.97,141.98 L187.98,142.54 L189.00,143.09 L190.02,143.64 L191.03,144.18 L192.05,144.72 L193.07,145.26 L194.08,145.80 L195.10,146.33 L196.12,146.86 L197.13,147.39 L198.15,147.91 L199.17,148.43 L200.18,148.95 L201.20,149.47 L202.22,149.98 L203.23,150.49 L204.25,151.00 L205.27,151.50 L206.28,152.00 L207.30,152.50 L208.32,152.99 L209.33,153.49 L210.35,153.98 L211.37,154.46 L212.38,154.95 L213.40,155.43 L214.42,155.91 L215.43,156.38 L216.45,156.85 L217.47,157.33 L218.48,157.79 L219.50,158.26 L220.52,158.72 L221.53,159.18 L222.55,159.64 L223.57,160.09 L224.58,160.54 L225.60,160.99 L226.62,161.44 L227.63,161.88 L228.65,162.32 L229.67,162.76 L230.68,163.20 L231.70,163.63 L232.72,164.06 L233.73,164.49 L234.75,164.92 L235.77,165.34 L236.78,165.77 L237.80,166.19 L238.82,166.60 L239.83,167.02 L240.85,167.43 L241.87,167.84 L242.88,168.25 L243.90,168.65 L244.92,169.05 L245.93,169.45 L246.95,169.85 L247.97,170.25 L248.98,170.64 L250.00,171.03 L251.02,171.42 L252.03,171.81 L253.05,172.19 L254.07,172.58 L255.08,172.96 L256.10,173.33 L257.12,173.71 L258.13,174.08 L259.15,174.46 L260.17,174.83 L261.18,175.19 L262.20,175.56 L263.22,175.92 L264.23,176.28 L265.25,176.64 L266.27,177.00 L267.28,177.35 L268.30,177.71 L269.32,178.06 L270.33,178.41 L271.35,178.75 L272.37,179.10 L273.38,179.44 L274.40,179.78 L275.42,180.12 L276.43,180.46 L277.45,180.79 L278.47,181.13 L279.48,181.46 L280.50,181.79 L281.52,182.11 L282.53,182.44 L283.55,182.76 L284.57,183.08 L285.58,183.40 L286.60,183.72 L287.62,184.04 L288.63,184.35 L289.65,184.67 L290.67,184.98 L291.68,185.29 L292.70,185.59 L293.72,185.90 L294.73,186.20 L295.75,186.51 L296.77,186.81 L297.78,187.10 L298.80,187.40 L299.82,187.70 L300.83,187.99 L301.85,188.28 L302.87,188.57 L303.88,188.86 L304.90,189.15 L305.92,189.43 L306.93,189.72 L307.95,190.00 L308.97,190.28 L309.98,190.56 L311.00,190.84 L312.02,191.11 L313.03,191.39 L314.05,191.66 L315.07,191.93 L316.08,192.20 L317.10,192.47 L318.12,192.73 L319.13,193.00 L320.15,193.26 L321.17,193.52 L322.18,193.78 L323.20,194.04 L324.22,194.30 L325.23,194.55 L326.25,194.81 L327.27,195.06 L328.28,195.31 L329.30,195.56 L330.32,195.81 L331.33,196.06 L332.35,196.30 L333.37,196.55 L334.38,196.79 L335.40,197.03 L336.42,197.27 L337.43,197.51 L338.45,197.75 L339.47,197.98 L340.48,198.22 L341.50,198.45 L342.52,198.68 L343.53,198.91 L344.55,199.14 L345.57,199.37 L346.58,199.60 L347.60,199.82 L348.62,200.05 L349.63,200.27 L350.65,200.49 L351.67,200.71 L352.68,200.93 L353.70,201.15 L354.72,201.36 L355.73,201.58 L356.75,201.79 L357.77,202.01 L358.78,202.22 L359.80,202.43" fill="none" stroke="#ff0000" stroke-width="1.9" stroke-dasharray="1.7 2.49" stroke-linejoin="round"/>
</g>
<path d="M50.0,34.2 L50.0,249.0 L359.8,249.0" fill="none" stroke="#111" stroke-width="1.4" stroke-linecap="square"/>
<line x1="45.9" x2="50.0" y1="238.90" y2="238.90" stroke="#3a3a3a" stroke-width="1.05"/>
<text class="tk" x="42.9" y="244.50" text-anchor="end">0</text>
<line x1="45.9" x2="50.0" y1="197.96" y2="197.96" stroke="#3a3a3a" stroke-width="1.05"/>
<text class="tk" x="42.9" y="203.56" text-anchor="end">20</text>
<line x1="45.9" x2="50.0" y1="157.02" y2="157.02" stroke="#3a3a3a" stroke-width="1.05"/>
<text class="tk" x="42.9" y="162.62" text-anchor="end">40</text>
<line x1="45.9" x2="50.0" y1="116.08" y2="116.08" stroke="#3a3a3a" stroke-width="1.05"/>
<text class="tk" x="42.9" y="121.68" text-anchor="end">60</text>
<line x1="45.9" x2="50.0" y1="75.14" y2="75.14" stroke="#3a3a3a" stroke-width="1.05"/>
<text class="tk" x="42.9" y="80.74" text-anchor="end">80</text>
<line x1="45.9" x2="50.0" y1="34.20" y2="34.20" stroke="#3a3a3a" stroke-width="1.05"/>
<text class="tk" x="42.9" y="39.80" text-anchor="end">100</text>
<line x1="54.80" x2="54.80" y1="249.0" y2="253.1" stroke="#3a3a3a" stroke-width="1.05"/>
<text class="tk" x="54.80" y="266.6" text-anchor="middle">0.0</text>
<line x1="105.63" x2="105.63" y1="249.0" y2="253.1" stroke="#3a3a3a" stroke-width="1.05"/>
<text class="tk" x="105.63" y="266.6" text-anchor="middle">0.5</text>
<line x1="156.47" x2="156.47" y1="249.0" y2="253.1" stroke="#3a3a3a" stroke-width="1.05"/>
<text class="tk" x="156.47" y="266.6" text-anchor="middle">1.0</text>
<line x1="207.30" x2="207.30" y1="249.0" y2="253.1" stroke="#3a3a3a" stroke-width="1.05"/>
<text class="tk" x="207.30" y="266.6" text-anchor="middle">1.5</text>
<line x1="258.13" x2="258.13" y1="249.0" y2="253.1" stroke="#3a3a3a" stroke-width="1.05"/>
<text class="tk" x="258.13" y="266.6" text-anchor="middle">2.0</text>
<line x1="308.97" x2="308.97" y1="249.0" y2="253.1" stroke="#3a3a3a" stroke-width="1.05"/>
<text class="tk" x="308.97" y="266.6" text-anchor="middle">2.5</text>
<line x1="359.80" x2="359.80" y1="249.0" y2="253.1" stroke="#3a3a3a" stroke-width="1.05"/>
<text class="tk" x="359.80" y="266.6" text-anchor="middle">3.0</text>
<text class="lb" x="203.8" y="283.7" text-anchor="middle">Relative distance [m]</text>
<text class="lb" transform="translate(12.5,142.2) rotate(-90)" text-anchor="middle"><tspan font-style="italic">ω</tspan><tspan font-style="italic" font-size="11.8px" dy="3.8">D</tspan><tspan dy="-3.8" letter-spacing="0.6px"> [%]</tspan></text>
<line x1="115.5" x2="142.5" y1="50.0" y2="50.0" stroke="#3366CC" stroke-width="1.9"/>
<text class="lg" x="152.1" y="54.3">P1</text>
<line x1="115.5" x2="142.5" y1="67.8" y2="67.8" stroke="#E8A030" stroke-width="1.9"/>
<text class="lg" x="152.1" y="72.1">P2</text>
<line x1="115.5" x2="142.5" y1="85.6" y2="85.6" stroke="#9955FF" stroke-width="1.9"/>
<text class="lg" x="152.1" y="89.89999999999999">P3</text>
<line x1="189.8" x2="216.8" y1="50.0" y2="50.0" stroke="#33A61A" stroke-width="1.9"/>
<text class="lg" x="226.4" y="54.3">P4</text>
<line x1="189.8" x2="216.8" y1="67.8" y2="67.8" stroke="#F75C5C" stroke-width="1.9"/>
<text class="lg" x="226.4" y="72.1">P5</text>
<line x1="189.8" x2="216.8" y1="85.6" y2="85.6" stroke="#14305C" stroke-width="1.9"/>
<text class="lg" x="226.4" y="89.89999999999999">P6</text>
<line x1="264.0" x2="291.0" y1="50.0" y2="50.0" stroke="#3DB8AC" stroke-width="1.9"/>
<text class="lg" x="300.6" y="54.3">P7</text>
<line x1="264.0" x2="291.0" y1="67.8" y2="67.8" stroke="#9C4747" stroke-width="1.9"/>
<text class="lg" x="300.6" y="72.1">P8</text>
<line x1="264.85" x2="291.0" y1="85.6" y2="85.6" stroke="#ff0000" stroke-width="1.9" stroke-dasharray="1.7 2.49"/>
<text class="lg" x="300.6" y="89.89999999999999">Max Diff</text>
</svg></body></html>
